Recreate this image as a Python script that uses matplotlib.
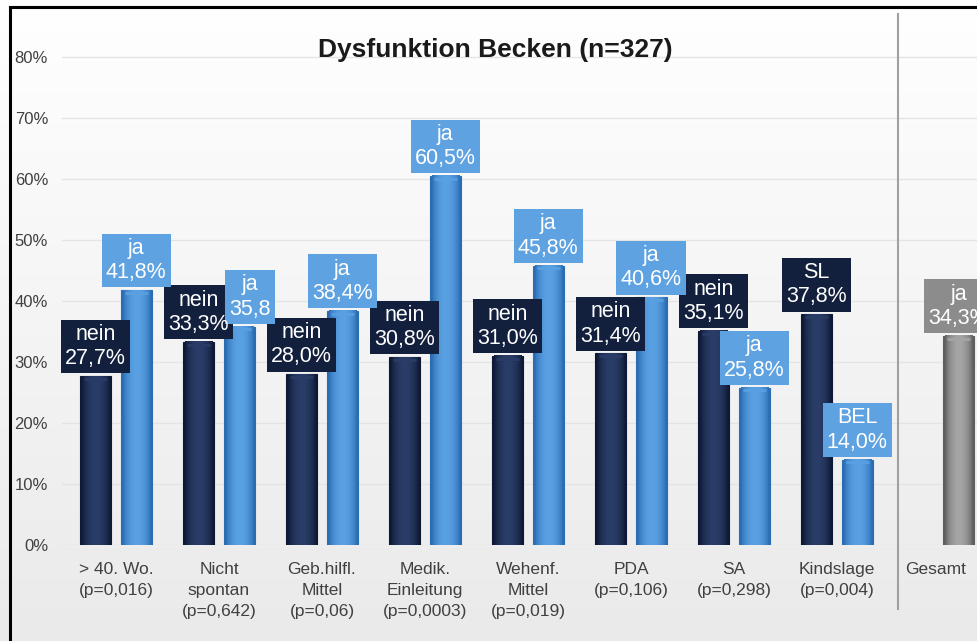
import numpy as np
import matplotlib
matplotlib.use("Agg")
import matplotlib.pyplot as plt
from matplotlib.lines import Line2D
from matplotlib.colors import LinearSegmentedColormap

plt.rcParams['font.family'] = ['Liberation Sans', 'DejaVu Sans']

# ---------------- data ----------------
categories = ["> 40. Wo.\n(p=0,016)", "Nicht\nspontan\n(p=0,642)",
              "Geb.hilfl.\nMittel\n(p=0,06)", "Medik.\nEinleitung\n(p=0,0003)",
              "Wehenf.\nMittel\n(p=0,019)", "PDA\n(p=0,106)",
              "SA\n(p=0,298)", "Kindslage\n(p=0,004)"]
dark_values = [27.7, 33.3, 28.0, 30.8, 31.0, 31.4, 35.1, 37.8]
light_values = [41.8, 35.8, 38.4, 60.5, 45.8, 40.6, 25.8, 14.0]
dark_labels = ["nein\n27,7%", "nein\n33,3%", "nein\n28,0%", "nein\n30,8%",
               "nein\n31,0%", "nein\n31,4%", "nein\n35,1%", "SL\n37,8%"]
light_labels = ["ja\n41,8%", "ja\n35,8", "ja\n38,4%", "ja\n60,5%",
                "ja\n45,8%", "ja\n40,6%", "ja\n25,8%", "BEL\n14,0%"]
total_category = "Gesamt"
total_value = 34.3
total_label = "ja\n34,3%"
yticks = [0, 10, 20, 30, 40, 50, 60, 70, 80]
ytick_labels = ["0%", "10%", "20%", "30%", "40%", "50%", "60%", "70%", "80%"]
title = "Dysfunktion Becken (n=327)"

# ---------------- layout / style ----------------
W, H = 978, 641
fig = plt.figure(figsize=(W / 100, H / 100), dpi=100)

# background gradient
bg = fig.add_axes([0, 0, 1, 1], zorder=-10)
grad = np.linspace(1.0, 0.0, 256).reshape(-1, 1)
bg_cmap = LinearSegmentedColormap.from_list("bg", ["#eaeaea", "#ffffff"])
bg.imshow(grad, aspect="auto", cmap=bg_cmap, extent=[0, 1, 0, 1], origin="upper")
bg.set_axis_off()

px_unit = 103.0          # pixels per category
x0_px = 116.0            # pixel of first category
ax_left_px, ax_bottom_px, y_top = 62.0, 545.0, 85.0
px_per_pct = 6.1
ax_top_px = ax_bottom_px - y_top * px_per_pct
ax = fig.add_axes([ax_left_px / W, (H - ax_bottom_px) / H,
                   (W - ax_left_px) / W, (ax_bottom_px - ax_top_px) / H])
ax.patch.set_alpha(0)
xlim_left = (ax_left_px - x0_px) / px_unit
xlim_right = (W - x0_px) / px_unit

for s in ax.spines.values():
    s.set_visible(False)
ax.set_yticks(yticks)
ax.set_yticklabels(ytick_labels, fontsize=12, color="#404040")
ax.tick_params(axis="y", length=0, pad=10)
ax.yaxis.grid(True, color="#e4e4e4", linewidth=1.0)
ax.set_axisbelow(True)

n = len(categories)
x = np.arange(n)
off = 0.197
bw = 0.30
total_x = n + 0.18
total_tick_x = n - 0.04
sep_x = n - 0.41

ax.set_xticks(list(x) + [total_tick_x])
ax.set_xticklabels(categories + [total_category], fontsize=12.5, color="#404040",
                   linespacing=1.5)
ax.tick_params(axis="x", length=0, pad=12)

dark_col = ("#0e1a35", "#2a3d68")
light_col = ("#2b6db3", "#5aa1e3")
gray_col = ("#5f5f5f", "#a5a5a5")


def shaded_bar(xc, h, cols):
    bars = ax.bar(xc, h, width=bw, color=cols[0], edgecolor=cols[0],
                  linewidth=0.8, zorder=3)
    for b in bars:
        x_l, w_, hh = b.get_x(), b.get_width(), b.get_height()
        prof = np.sin(np.linspace(0, np.pi, 64)) ** 0.7
        cm = LinearSegmentedColormap.from_list("c", [cols[0], cols[1]])
        ax.imshow(prof.reshape(1, -1), cmap=cm, aspect="auto",
                  extent=[x_l + w_ * 0.06, x_l + w_ * 0.94, 0, hh],
                  zorder=3.5, vmin=0, vmax=1)
        # top cap highlight
        ax.plot([x_l + w_ * 0.12, x_l + w_ * 0.88], [hh - 0.45, hh - 0.45],
                color=cols[1], lw=2.0, alpha=0.9, zorder=3.6,
                solid_capstyle="butt")
    return bars


shaded_bar(x - off, dark_values, dark_col)
shaded_bar(x + off, light_values, light_col)
shaded_bar([total_x], [total_value], gray_col)
ax.set_xlim(xlim_left, xlim_right)
ax.set_ylim(0, y_top)

box_dark = "#13203d"
box_light = "#5ea2e1"
box_gray = "#8c8c8c"


def label(xc, v, txt, fc, dx=0, z=6):
    kw = dict(xy=(xc, v), xytext=(dx, 5.0), textcoords="offset points",
              ha="center", va="bottom", fontsize=15.5, linespacing=1.2,
              annotation_clip=False)
    ax.annotate(txt, color=fc, zorder=z,
                bbox=dict(boxstyle="square,pad=0.2", fc=fc, ec="none"), **kw)
    ax.annotate(txt, color="white", zorder=10, **kw)


for i in range(n):
    label(x[i] - off, dark_values[i], dark_labels[i], box_dark, z=6)
for i in range(n):
    dx = 7.5 if not light_labels[i].endswith("%") else 0
    label(x[i] + off, light_values[i], light_labels[i], box_light, dx=dx, z=7)
label(total_x, total_value, total_label, box_gray, z=7)

# separator line between categories and total
ax.plot([sep_x, sep_x], [-10.5, 87.0], color="#a0a0a0", lw=1.5,
        clip_on=False, zorder=2)

# title
fig.text(495 / W, 1 - 50 / H, title, ha="center", va="center",
         fontsize=19, fontweight="bold", color="#1a1a1a")

# outer frame lines (top & left)
fig.add_artist(Line2D([10 / W, 1], [1 - 7 / H, 1 - 7 / H], color="black", lw=2.2))
fig.add_artist(Line2D([10 / W, 10 / W], [0, 1 - 7 / H], color="black", lw=2.2))

fig.savefig("out.png", dpi=100)
